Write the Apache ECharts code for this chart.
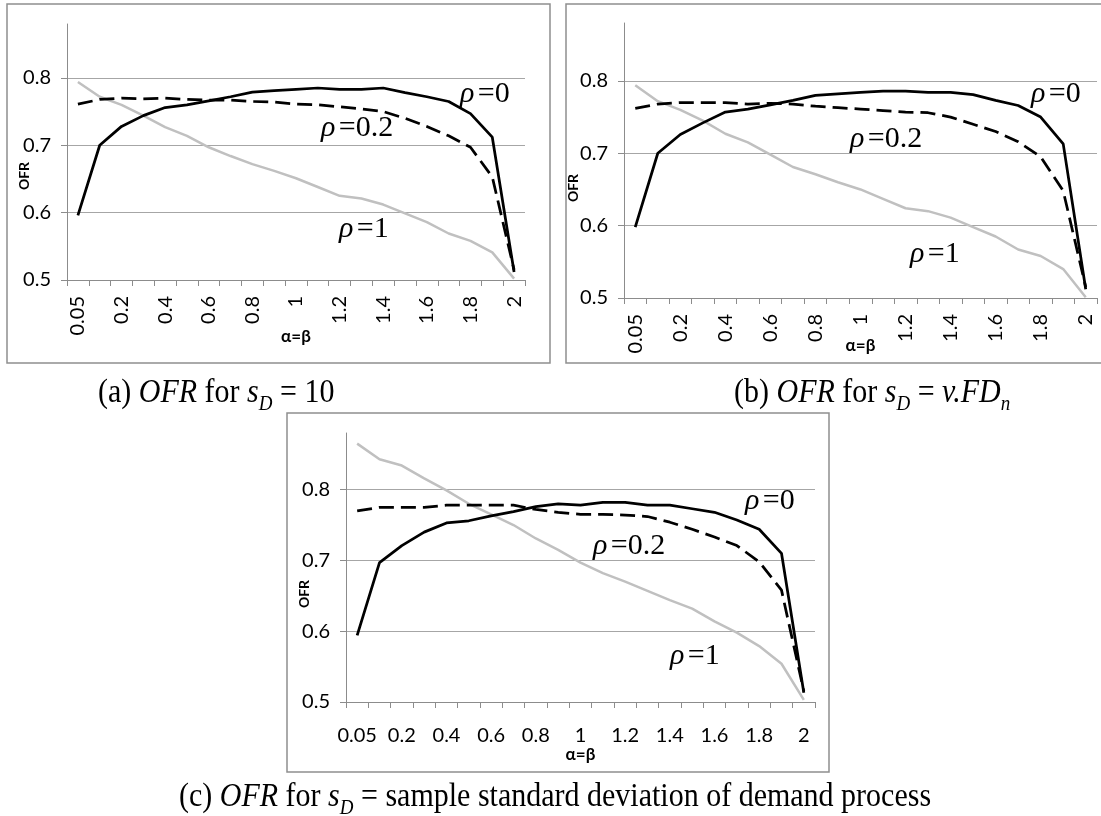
<!DOCTYPE html>
<html>
<head>
<meta charset="utf-8">
<script src="https://cdn.jsdelivr.net/npm/echarts@6/dist/echarts.min.js"></script>
<style>
  html, body { margin: 0; padding: 0; background: #fff; }
  #main { width: 1101px; height: 816px; }
</style>
</head>
<body>
<div id="main"></div>
<script>
// alpha = beta values on the x axis
const alphaBeta = ['0.05', '0.1', '0.2', '0.3', '0.4', '0.5', '0.6', '0.7', '0.8', '0.9', '1',
  '1.1', '1.2', '1.3', '1.4', '1.5', '1.6', '1.7', '1.8', '1.9', '2']

// OFR axis
const ofrMin = 0.5
const ofrMax = 0.88
const ofrStep = 0.1

// (a) s_D = 10
const rho0A = [0.596, 0.700, 0.728, 0.744, 0.756, 0.760, 0.766, 0.772, 0.779, 0.781, 0.783,
  0.785, 0.783, 0.783, 0.785, 0.778, 0.772, 0.765, 0.747, 0.712, 0.512]
const rho02A = [0.761, 0.768, 0.770, 0.769, 0.770, 0.768, 0.767, 0.767, 0.765, 0.764, 0.761,
  0.760, 0.757, 0.754, 0.750, 0.740, 0.728, 0.714, 0.697, 0.653, 0.515]
const rho1A = [0.794, 0.772, 0.760, 0.744, 0.727, 0.714, 0.697, 0.684, 0.672, 0.662, 0.651,
  0.638, 0.625, 0.621, 0.612, 0.599, 0.586, 0.569, 0.558, 0.541, 0.502]

// (b) s_D = v.FD_n
const rho0B = [0.598, 0.700, 0.726, 0.742, 0.757, 0.761, 0.767, 0.773, 0.780, 0.782, 0.784,
  0.786, 0.786, 0.784, 0.784, 0.781, 0.773, 0.766, 0.750, 0.713, 0.512]
const rho02B = [0.762, 0.768, 0.770, 0.770, 0.770, 0.768, 0.769, 0.768, 0.765, 0.763, 0.761,
  0.759, 0.757, 0.756, 0.750, 0.740, 0.730, 0.716, 0.695, 0.648, 0.515]
const rho1B = [0.794, 0.772, 0.760, 0.745, 0.727, 0.715, 0.698, 0.681, 0.671, 0.660, 0.650,
  0.637, 0.624, 0.620, 0.611, 0.598, 0.585, 0.567, 0.558, 0.540, 0.501]

// (c) s_D = sample standard deviation
const rho0C = [0.594, 0.697, 0.721, 0.740, 0.753, 0.756, 0.763, 0.769, 0.776, 0.780, 0.778,
  0.782, 0.782, 0.778, 0.778, 0.773, 0.768, 0.757, 0.744, 0.710, 0.513]
const rho02C = [0.770, 0.775, 0.775, 0.775, 0.778, 0.778, 0.778, 0.778, 0.772, 0.768, 0.765,
  0.765, 0.764, 0.762, 0.754, 0.744, 0.733, 0.721, 0.698, 0.658, 0.515]
const rho1C = [0.865, 0.843, 0.834, 0.816, 0.799, 0.780, 0.765, 0.750, 0.731, 0.715, 0.697,
  0.682, 0.670, 0.657, 0.644, 0.632, 0.614, 0.598, 0.579, 0.554, 0.503]

const panels = [
  { grid: { left: 67, top: 24, width: 458, height: 256 }, rotate: 90, labelMargin: 16, nameGap: 48,
    data: [rho1A, rho0A, rho02A] },
  { grid: { left: 624, top: 23, width: 473, height: 275 }, rotate: 90, labelMargin: 16, nameGap: 39,
    data: [rho1B, rho0B, rho02B] },
  { grid: { left: 346, top: 433, width: 469, height: 269 }, rotate: 0, labelMargin: 24, nameGap: 44,
    data: [rho1C, rho0C, rho02C] },
]

const axisGrey = '#8c8c8c'
const gridGrey = '#a6a6a6'
const labelFont = 'Lato, "Open Sans", sans-serif'
const serif = '"Liberation Serif", "DejaVu Serif", serif'

const lineStyles = [
  { color: '#c0c0c0', width: 2.5, type: 'solid' },
  { color: '#000', width: 2.75, type: 'solid' },
  { color: '#000', width: 2.75, type: [15, 7] },
]

const grids = panels.map(p => p.grid)

const xAxes = panels.map((p, i) => ({
  type: 'category',
  gridIndex: i,
  data: alphaBeta,
  boundaryGap: true,
  name: 'α=β',
  nameLocation: 'middle',
  nameGap: p.nameGap,
  nameMoveOverlap: false,
  nameTextStyle: { fontFamily: labelFont, fontWeight: 'bold', fontSize: 17, color: '#000' },
  axisLine: { lineStyle: { color: axisGrey, width: 1 } },
  axisTick: { show: true, interval: 0, length: 6, lineStyle: { color: axisGrey } },
  axisLabel: { interval: 1, rotate: p.rotate, margin: p.labelMargin, fontFamily: labelFont, fontSize: 20, color: '#000' },
  splitLine: { show: false },
}))

const yAxes = panels.map((p, i) => ({
  type: 'value',
  gridIndex: i,
  min: ofrMin,
  max: ofrMax,
  interval: ofrStep,
  axisLine: { show: true, lineStyle: { color: axisGrey, width: 1 } },
  axisTick: { show: true, length: 6, lineStyle: { color: axisGrey } },
  axisLabel: { showMaxLabel: false, margin: 16, fontFamily: labelFont, fontSize: 20, color: '#000',
    formatter: v => v.toFixed(1) },
  splitLine: { show: true, showMaxLine: false, showMinLine: false, lineStyle: { color: gridGrey, width: 1 } },
}))

const series = []
panels.forEach((p, i) => {
  p.data.forEach((vals, k) => {
    series.push({
      type: 'line',
      xAxisIndex: i,
      yAxisIndex: i,
      data: vals,
      symbol: 'none',
      smooth: false,
      lineStyle: lineStyles[k],
      z: 3 + k,
    })
  })
})

// text annotations, frames and captions
const rhoText = (x, y, val) => ({
  type: 'text', x, y, z: 50,
  style: {
    text: '{r|ρ} {t|=' + val + '}',
    align: 'left', verticalAlign: 'middle',
    rich: {
      r: { fontFamily: serif, fontStyle: 'italic', fontSize: 30, fill: '#000' },
      t: { fontFamily: serif, fontSize: 30, fill: '#000' },
    },
  },
})

const ofrName = (x, y) => ({
  type: 'text', x, y, rotation: Math.PI / 2, z: 50,
  style: { text: 'OFR', fontFamily: labelFont, fontWeight: 'bold', fontSize: 14, fill: '#000',
    align: 'center', verticalAlign: 'middle' },
})

const frame = (x, y, w, h) => ({
  type: 'rect', z: 1,
  shape: { x, y, width: w, height: h },
  style: { fill: 'none', stroke: '#8f8f8f', lineWidth: 1.5 },
})

const capRich = {
  n: { fontFamily: serif, fontSize: 30, lineHeight: 38, fill: '#000' },
  i: { fontFamily: serif, fontSize: 30, lineHeight: 38, fontStyle: 'italic', fill: '#000' },
  s: { fontFamily: serif, fontSize: 19, lineHeight: 19, fontStyle: 'italic', fill: '#000', verticalAlign: 'bottom' },
}
const caption = (x, y, text) => ({
  type: 'text', x, y, z: 50, scaleY: 1.15,
  style: { text, align: 'left', verticalAlign: 'middle', rich: capRich },
})

const graphic = [
  frame(7, 4, 543, 359),
  frame(566, 4, 545, 359),
  frame(287, 413, 542, 359),
  ofrName(24, 176),
  ofrName(573, 188),
  ofrName(304, 594),
  rhoText(460, 94, '0'),
  rhoText(321, 128, '0.2'),
  rhoText(339, 229, '1'),
  rhoText(1031, 94, '0'),
  rhoText(850, 139, '0.2'),
  rhoText(910, 254, '1'),
  rhoText(745, 501, '0'),
  rhoText(593, 546, '0.2'),
  rhoText(670, 656, '1'),
  caption(98, 393, '{n|(a) }{i|OFR}{n| for }{i|s}{s|D}{n| = 10}'),
  caption(734, 393, '{n|(b) }{i|OFR}{n| for }{i|s}{s|D}{n| = }{i|v.FD}{s|n}'),
  caption(179, 797, '{n|(c) }{i|OFR}{n| for }{i|s}{s|D}{n| = sample standard deviation of demand process}'),
]

const chart = echarts.init(document.getElementById('main'))
chart.setOption({
  animation: false,
  backgroundColor: '#fff',
  grid: grids,
  xAxis: xAxes,
  yAxis: yAxes,
  series,
  graphic,
})
</script>
</body>
</html>
